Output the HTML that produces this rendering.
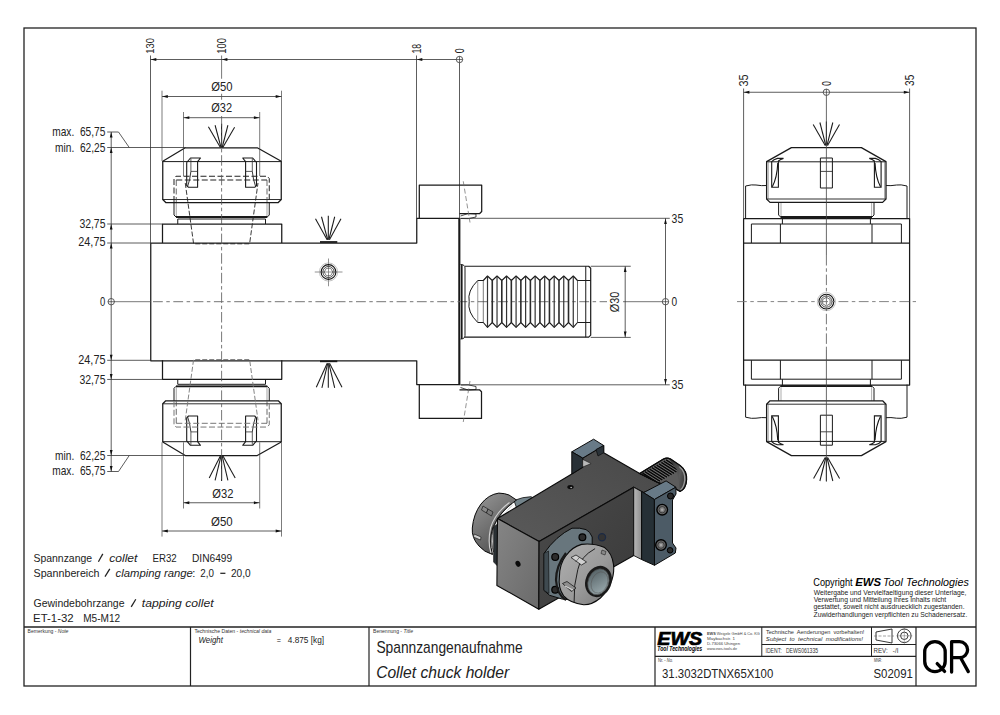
<!DOCTYPE html>
<html><head><meta charset="utf-8"><style>
html,body{margin:0;padding:0;background:#fff;width:1000px;height:715px;overflow:hidden}
svg{display:block}
</style></head><body>
<svg width="1000" height="715" viewBox="0 0 1000 715">
<defs>
<linearGradient id="gTop" x1="0" y1="1" x2="1" y2="0"><stop offset="0" stop-color="#5a5a5a"/><stop offset="1" stop-color="#484848"/></linearGradient>
<linearGradient id="gFront" x1="0" y1="0" x2="1" y2="1"><stop offset="0" stop-color="#858585"/><stop offset="1" stop-color="#6a6a6a"/></linearGradient>
<linearGradient id="gRight" x1="0" y1="0" x2="1" y2="1"><stop offset="0" stop-color="#4a4a4a"/><stop offset="1" stop-color="#3a3a3a"/></linearGradient>
<linearGradient id="gNut" x1="0" y1="0" x2="1" y2="1"><stop offset="0" stop-color="#b0b0b0"/><stop offset="0.55" stop-color="#9a9a9a"/><stop offset="1" stop-color="#777"/></linearGradient>
<linearGradient id="gNut2" x1="0" y1="0" x2="1" y2="1"><stop offset="0" stop-color="#9a9a9a"/><stop offset="1" stop-color="#5a5a5a"/></linearGradient>
<linearGradient id="gShank" x1="0" y1="0" x2="1" y2="1"><stop offset="0" stop-color="#555"/><stop offset="0.5" stop-color="#222"/><stop offset="1" stop-color="#444"/></linearGradient>
<linearGradient id="gBack" x1="0" y1="0" x2="0.6" y2="1"><stop offset="0" stop-color="#9a9a9a"/><stop offset="1" stop-color="#505050"/></linearGradient>
<linearGradient id="gStrip" x1="0" y1="0" x2="1" y2="0"><stop offset="0" stop-color="#b8b8b8"/><stop offset="1" stop-color="#8e8e8e"/></linearGradient>
<linearGradient id="gHole" x1="0" y1="0" x2="1" y2="1"><stop offset="0" stop-color="#4c585c"/><stop offset="1" stop-color="#a4b4b8"/></linearGradient>
<linearGradient id="gEnd" x1="0" y1="0" x2="1" y2="0.3"><stop offset="0" stop-color="#2a2a2a"/><stop offset="0.7" stop-color="#5a5a5a"/><stop offset="1" stop-color="#3a3a3a"/></linearGradient>
</defs>
<rect x="24" y="28" width="952" height="658" fill="none" stroke="#222" stroke-width="1.3"/>
<line x1="24" y1="627" x2="976" y2="627" stroke="#222" stroke-width="1.3" />
<line x1="190.5" y1="627" x2="190.5" y2="686" stroke="#222" stroke-width="1.2" />
<line x1="369" y1="627" x2="369" y2="686" stroke="#222" stroke-width="1.2" />
<line x1="655" y1="627" x2="655" y2="686" stroke="#222" stroke-width="1.2" />
<line x1="916" y1="627" x2="916" y2="686" stroke="#222" stroke-width="1.2" />
<line x1="761.8" y1="627" x2="761.8" y2="656.3" stroke="#222" stroke-width="1.0" />
<line x1="871.5" y1="627" x2="871.5" y2="656.3" stroke="#222" stroke-width="1.0" />
<line x1="655" y1="656.3" x2="916" y2="656.3" stroke="#222" stroke-width="1.2" />
<line x1="761.8" y1="644.5" x2="916" y2="644.5" stroke="#222" stroke-width="1.0" />
<polygon points="150.75,243 416.75,243 416.75,218.3 459.5,218.3 459.5,384.6 416.75,384.6 416.75,360.8 150.75,360.8" fill="none" stroke="#1a1a1a" stroke-width="1.25" stroke-linejoin="round" />
<line x1="459.3" y1="218.3" x2="459.3" y2="384.6" stroke="#1a1a1a" stroke-width="2.0" />
<polyline points="162.5,243 162.5,224 281.75,224 281.75,243" fill="none" stroke="#1a1a1a" stroke-width="1.25" stroke-linejoin="round" />
<polyline points="177.75,224 177.75,219 265.5,219 265.5,224" fill="none" stroke="#1a1a1a" stroke-width="1.0" stroke-linejoin="round" />
<polyline points="174,202.5 174,215 176,217 267.25,217 269.25,215 269.25,202.5" fill="none" stroke="#1a1a1a" stroke-width="1.0" stroke-linejoin="round" />
<line x1="176" y1="217" x2="267.25" y2="217" stroke="#1a1a1a" stroke-width="1.8" />
<line x1="176.25" y1="202.5" x2="176.25" y2="216" stroke="#666" stroke-width="0.6" />
<line x1="267" y1="202.5" x2="267" y2="216" stroke="#666" stroke-width="0.6" />
<polygon points="185.25,147.75 257.25,147.75 281.25,161.25 281.25,199.5 278.25,202.5 165.75,202.5 162.75,199.5 162.75,161.25" fill="none" stroke="#1a1a1a" stroke-width="1.25" stroke-linejoin="round" />
<line x1="162.75" y1="161.6" x2="281.25" y2="161.6" stroke="#1a1a1a" stroke-width="1.0" />
<line x1="162.75" y1="199.5" x2="281.25" y2="199.5" stroke="#1a1a1a" stroke-width="0.9" />
<polygon points="186.7,162.5 190.5,158 200.5,158 197.6,161.7 197.6,187.3 188.5,187.3 186.7,185.5" fill="none" stroke="#1a1a1a" stroke-width="1.1" stroke-linejoin="round" />
<line x1="190.9" y1="158.5" x2="190.9" y2="171.4" stroke="#333" stroke-width="0.8" />
<line x1="190.9" y1="171.4" x2="197.6" y2="171.4" stroke="#333" stroke-width="0.8" />
<path d="M190.9,171.4 Q190,180 187.6,186.5" fill="none" stroke="#222" stroke-width="0.9" />
<polygon points="256.5,162.5 252.7,158 242.7,158 245.6,161.7 245.6,187.3 254.7,187.3 256.5,185.5" fill="none" stroke="#1a1a1a" stroke-width="1.1" stroke-linejoin="round" />
<line x1="252.3" y1="158.5" x2="252.3" y2="171.4" stroke="#333" stroke-width="0.8" />
<line x1="252.3" y1="171.4" x2="245.6" y2="171.4" stroke="#333" stroke-width="0.8" />
<path d="M252.3,171.4 Q253.2,180 255.6,186.5" fill="none" stroke="#222" stroke-width="0.9" />
<polyline points="174,202 174,178.5 176,176.25 267.25,176.25 269.25,178.5 269.25,202" fill="none" stroke="#222" stroke-width="1.0" stroke-linejoin="round" stroke-dasharray="6,2.5"/>
<line x1="176.25" y1="180" x2="267" y2="180" stroke="#222" stroke-width="1.0" stroke-dasharray="6,2.5"/>
<line x1="176.25" y1="180" x2="176.25" y2="202" stroke="#444" stroke-width="0.8" stroke-dasharray="6,2.5"/>
<line x1="267" y1="180" x2="267" y2="202" stroke="#444" stroke-width="0.8" stroke-dasharray="6,2.5"/>
<polyline points="185.25,183 193.6,243.8 249.6,243.8 258.0,183" fill="none" stroke="#222" stroke-width="0.9" stroke-linejoin="round" stroke-dasharray="5,2"/>
<line x1="183.5" y1="112" x2="183.5" y2="176" stroke="#444" stroke-width="0.7" />
<line x1="259.7" y1="112" x2="259.7" y2="176" stroke="#444" stroke-width="0.7" />
<line x1="162" y1="90.7" x2="162" y2="161" stroke="#444" stroke-width="0.7" />
<line x1="281.5" y1="90.7" x2="281.5" y2="161" stroke="#444" stroke-width="0.7" />
<line x1="162" y1="96.5" x2="281.5" y2="96.5" stroke="#333" stroke-width="0.8" />
<line x1="183.5" y1="117.7" x2="259.7" y2="117.7" stroke="#333" stroke-width="0.8" />
<polyline points="162.5,360.3 162.5,379.3 281.75,379.3 281.75,360.3" fill="none" stroke="#1a1a1a" stroke-width="1.25" stroke-linejoin="round" />
<polyline points="177.75,379.3 177.75,384.3 265.5,384.3 265.5,379.3" fill="none" stroke="#1a1a1a" stroke-width="1.0" stroke-linejoin="round" />
<polyline points="174,400.8 174,388.3 176,386.3 267.25,386.3 269.25,388.3 269.25,400.8" fill="none" stroke="#1a1a1a" stroke-width="1.0" stroke-linejoin="round" />
<line x1="176" y1="386.3" x2="267.25" y2="386.3" stroke="#1a1a1a" stroke-width="1.8" />
<line x1="176.25" y1="400.8" x2="176.25" y2="387.3" stroke="#666" stroke-width="0.6" />
<line x1="267" y1="400.8" x2="267" y2="387.3" stroke="#666" stroke-width="0.6" />
<polygon points="185.25,455.55 257.25,455.55 281.25,442.05 281.25,403.8 278.25,400.8 165.75,400.8 162.75,403.8 162.75,442.05" fill="none" stroke="#1a1a1a" stroke-width="1.25" stroke-linejoin="round" />
<line x1="162.75" y1="441.7" x2="281.25" y2="441.7" stroke="#1a1a1a" stroke-width="1.0" />
<line x1="162.75" y1="403.8" x2="281.25" y2="403.8" stroke="#1a1a1a" stroke-width="0.9" />
<polygon points="186.7,440.8 190.5,445.3 200.5,445.3 197.6,441.6 197.6,416.0 188.5,416.0 186.7,417.8" fill="none" stroke="#1a1a1a" stroke-width="1.1" stroke-linejoin="round" />
<line x1="190.9" y1="444.8" x2="190.9" y2="431.9" stroke="#333" stroke-width="0.8" />
<line x1="190.9" y1="431.9" x2="197.6" y2="431.9" stroke="#333" stroke-width="0.8" />
<path d="M190.9,431.9 Q190,423.3 187.6,416.8" fill="none" stroke="#222" stroke-width="0.9" />
<polygon points="256.5,440.8 252.7,445.3 242.7,445.3 245.6,441.6 245.6,416.0 254.7,416.0 256.5,417.8" fill="none" stroke="#1a1a1a" stroke-width="1.1" stroke-linejoin="round" />
<line x1="252.3" y1="444.8" x2="252.3" y2="431.9" stroke="#333" stroke-width="0.8" />
<line x1="252.3" y1="431.9" x2="245.6" y2="431.9" stroke="#333" stroke-width="0.8" />
<path d="M252.3,431.9 Q253.2,423.3 255.6,416.8" fill="none" stroke="#222" stroke-width="0.9" />
<polyline points="174,401.3 174,424.8 176,427.05 267.25,427.05 269.25,424.8 269.25,401.3" fill="none" stroke="#777" stroke-width="1.0" stroke-linejoin="round" stroke-dasharray="6,2.5"/>
<line x1="176.25" y1="423.3" x2="267" y2="423.3" stroke="#777" stroke-width="1.0" stroke-dasharray="6,2.5"/>
<line x1="176.25" y1="423.3" x2="176.25" y2="401.3" stroke="#444" stroke-width="0.8" stroke-dasharray="6,2.5"/>
<line x1="267" y1="423.3" x2="267" y2="401.3" stroke="#444" stroke-width="0.8" stroke-dasharray="6,2.5"/>
<polyline points="185.25,420.3 193.6,359.5 249.6,359.5 258.0,420.3" fill="none" stroke="#777" stroke-width="0.9" stroke-linejoin="round" stroke-dasharray="5,2"/>
<line x1="183.5" y1="508.5" x2="183.5" y2="442.3" stroke="#444" stroke-width="0.7" />
<line x1="259.7" y1="508.5" x2="259.7" y2="442.3" stroke="#444" stroke-width="0.7" />
<line x1="162" y1="536.6" x2="162" y2="442.3" stroke="#444" stroke-width="0.7" />
<line x1="281.5" y1="536.6" x2="281.5" y2="442.3" stroke="#444" stroke-width="0.7" />
<line x1="162" y1="531" x2="281.5" y2="531" stroke="#333" stroke-width="0.8" />
<line x1="183.5" y1="502.75" x2="259.7" y2="502.75" stroke="#333" stroke-width="0.8" />
<polygon points="162.3,96.5 167.8,95.1 167.8,97.9" fill="#111" stroke="none"/>
<polygon points="281.2,96.5 275.7,95.1 275.7,97.9" fill="#111" stroke="none"/>
<polygon points="183.8,117.7 189.3,116.3 189.3,119.10000000000001" fill="#111" stroke="none"/>
<polygon points="259.4,117.7 253.89999999999998,116.3 253.89999999999998,119.10000000000001" fill="#111" stroke="none"/>
<polygon points="162.3,531 167.8,529.6 167.8,532.4" fill="#111" stroke="none"/>
<polygon points="281.2,531 275.7,529.6 275.7,532.4" fill="#111" stroke="none"/>
<polygon points="183.8,502.75 189.3,501.35 189.3,504.15" fill="#111" stroke="none"/>
<polygon points="259.4,502.75 253.89999999999998,501.35 253.89999999999998,504.15" fill="#111" stroke="none"/>
<line x1="220.41" y1="147.5" x2="208.4" y2="126.75" stroke="#1a1a1a" stroke-width="1.05" />
<line x1="221.01" y1="147.5" x2="215.1" y2="125.25" stroke="#1a1a1a" stroke-width="1.05" />
<line x1="221.6" y1="147.5" x2="221.6" y2="123.75" stroke="#1a1a1a" stroke-width="1.05" />
<line x1="222.17" y1="147.5" x2="227.9" y2="125.25" stroke="#1a1a1a" stroke-width="1.05" />
<line x1="222.77" y1="147.5" x2="234.6" y2="127.2" stroke="#1a1a1a" stroke-width="1.05" />
<line x1="220.48" y1="455.8" x2="209.2" y2="478.0" stroke="#1a1a1a" stroke-width="1.05" />
<line x1="221.01" y1="455.8" x2="215.1" y2="480.3" stroke="#1a1a1a" stroke-width="1.05" />
<line x1="221.6" y1="455.8" x2="221.6" y2="481.0" stroke="#1a1a1a" stroke-width="1.05" />
<line x1="222.17" y1="455.8" x2="227.9" y2="480.3" stroke="#1a1a1a" stroke-width="1.05" />
<line x1="222.82" y1="455.8" x2="235.2" y2="478.0" stroke="#1a1a1a" stroke-width="1.05" />
<line x1="327.15" y1="239.75" x2="315.5" y2="218.75" stroke="#1a1a1a" stroke-width="1.05" />
<line x1="327.69" y1="239.75" x2="321.5" y2="216.75" stroke="#1a1a1a" stroke-width="1.05" />
<line x1="328.3" y1="239.75" x2="328.3" y2="215.75" stroke="#1a1a1a" stroke-width="1.05" />
<line x1="328.88" y1="239.75" x2="334.7" y2="216.75" stroke="#1a1a1a" stroke-width="1.05" />
<line x1="329.44" y1="239.75" x2="341.0" y2="218.75" stroke="#1a1a1a" stroke-width="1.05" />
<line x1="327.22" y1="363.3" x2="316.3" y2="387.2" stroke="#1a1a1a" stroke-width="1.05" />
<line x1="327.72" y1="363.3" x2="321.90000000000003" y2="387.8" stroke="#1a1a1a" stroke-width="1.05" />
<line x1="328.3" y1="363.3" x2="328.3" y2="387.8" stroke="#1a1a1a" stroke-width="1.05" />
<line x1="328.88" y1="363.3" x2="334.7" y2="387.8" stroke="#1a1a1a" stroke-width="1.05" />
<line x1="329.53" y1="363.3" x2="342.0" y2="387.2" stroke="#1a1a1a" stroke-width="1.05" />
<line x1="320" y1="242" x2="337.3" y2="242" stroke="#1a1a1a" stroke-width="1.8" />
<line x1="320" y1="361.3" x2="337.3" y2="361.3" stroke="#1a1a1a" stroke-width="1.8" />
<line x1="314.75" y1="272" x2="342.5" y2="272" stroke="#777" stroke-width="0.8" />
<line x1="328.5" y1="258.5" x2="328.5" y2="286.25" stroke="#777" stroke-width="0.8" />
<circle cx="328.5" cy="272" r="9.1" fill="none" stroke="#999" stroke-width="0.6"/>
<circle cx="328.5" cy="272" r="7.4" fill="none" stroke="#111" stroke-width="1.1"/>
<circle cx="328.5" cy="272" r="5.6" fill="none" stroke="#222" stroke-width="0.8"/>
<polygon points="332.80,272.00 330.65,275.72 326.35,275.72 324.20,272.00 326.35,268.28 330.65,268.28" fill="none" stroke="#444" stroke-width="0.7"/>
<line x1="221.6" y1="55.5" x2="221.6" y2="78.75" stroke="#555" stroke-width="0.8" />
<line x1="221.6" y1="93.75" x2="221.6" y2="99.75" stroke="#555" stroke-width="0.8" />
<line x1="221.6" y1="116" x2="221.6" y2="481" stroke="#555" stroke-width="0.8" stroke-dasharray="10.5,2.8,3.5,2.8"/>
<line x1="114.2" y1="301.7" x2="150.75" y2="301.7" stroke="#555" stroke-width="0.8" />
<line x1="153" y1="301.7" x2="607" y2="301.7" stroke="#666" stroke-width="0.9" stroke-dasharray="9.8,3.5,3.5,3.5"/>
<line x1="623" y1="301.7" x2="662.3" y2="301.7" stroke="#666" stroke-width="0.9" />
<line x1="150.5" y1="55.5" x2="150.5" y2="243" stroke="#333" stroke-width="0.8" />
<line x1="416.5" y1="55.5" x2="416.5" y2="218.3" stroke="#333" stroke-width="0.8" />
<line x1="459.5" y1="62.8" x2="459.5" y2="218.3" stroke="#333" stroke-width="0.8" />
<line x1="150.5" y1="59.5" x2="456.3" y2="59.5" stroke="#333" stroke-width="0.8" />
<polygon points="150.8,59.5 156.3,58.1 156.3,60.9" fill="#111" stroke="none"/>
<polygon points="221.9,59.5 227.4,58.1 227.4,60.9" fill="#111" stroke="none"/>
<polygon points="416.8,59.5 422.3,58.1 422.3,60.9" fill="#111" stroke="none"/>
<circle cx="459.5" cy="59.5" r="3.2" fill="none" stroke="#333" stroke-width="0.8"/>
<line x1="456.3" y1="59.5" x2="462.7" y2="59.5" stroke="#333" stroke-width="0.7" />
<line x1="459.5" y1="56.3" x2="459.5" y2="62.7" stroke="#333" stroke-width="0.7" />
<line x1="111.2" y1="132" x2="111.2" y2="298.5" stroke="#333" stroke-width="0.8" />
<line x1="111.2" y1="304.9" x2="111.2" y2="471.5" stroke="#333" stroke-width="0.8" />
<circle cx="111.2" cy="301.7" r="3.2" fill="none" stroke="#333" stroke-width="0.8"/>
<line x1="108.0" y1="301.7" x2="114.4" y2="301.7" stroke="#333" stroke-width="0.7" />
<line x1="111.2" y1="298.5" x2="111.2" y2="304.9" stroke="#333" stroke-width="0.7" />
<line x1="107.2" y1="147.5" x2="186" y2="147.5" stroke="#333" stroke-width="0.8" />
<line x1="107.2" y1="224" x2="162.5" y2="224" stroke="#333" stroke-width="0.8" />
<line x1="107.2" y1="243" x2="150.75" y2="243" stroke="#333" stroke-width="0.8" />
<line x1="107.2" y1="360.3" x2="150.75" y2="360.3" stroke="#333" stroke-width="0.8" />
<line x1="107.2" y1="379.45" x2="162.3" y2="379.45" stroke="#333" stroke-width="0.8" />
<line x1="107.2" y1="455.5" x2="185" y2="455.5" stroke="#333" stroke-width="0.8" />
<polyline points="107.2,132 118.5,132 129.25,147.5" fill="none" stroke="#333" stroke-width="0.8" stroke-linejoin="round" />
<polyline points="107.2,471.5 118.5,471.5 129.25,455.5" fill="none" stroke="#333" stroke-width="0.8" stroke-linejoin="round" />
<polygon points="111.2,132 109.8,137.5 112.60000000000001,137.5" fill="#111" stroke="none"/>
<polygon points="111.2,147.5 109.8,153.0 112.60000000000001,153.0" fill="#111" stroke="none"/>
<polygon points="111.2,224 109.8,229.5 112.60000000000001,229.5" fill="#111" stroke="none"/>
<polygon points="111.2,243 109.8,248.5 112.60000000000001,248.5" fill="#111" stroke="none"/>
<polygon points="111.2,360.3 109.8,354.8 112.60000000000001,354.8" fill="#111" stroke="none"/>
<polygon points="111.2,379.45 109.8,373.95 112.60000000000001,373.95" fill="#111" stroke="none"/>
<polygon points="111.2,455.5 109.8,450.0 112.60000000000001,450.0" fill="#111" stroke="none"/>
<polygon points="111.2,471.5 109.8,466.0 112.60000000000001,466.0" fill="#111" stroke="none"/>
<line x1="459.5" y1="218.3" x2="669.75" y2="218.3" stroke="#333" stroke-width="0.8" />
<line x1="459.5" y1="384.8" x2="669.75" y2="384.8" stroke="#333" stroke-width="0.8" />
<line x1="665.5" y1="218.3" x2="665.5" y2="298.5" stroke="#333" stroke-width="0.8" />
<line x1="665.5" y1="304.9" x2="665.5" y2="384.8" stroke="#333" stroke-width="0.8" />
<circle cx="665.5" cy="301.7" r="3.2" fill="none" stroke="#333" stroke-width="0.8"/>
<line x1="662.3" y1="301.7" x2="668.7" y2="301.7" stroke="#333" stroke-width="0.7" />
<line x1="665.5" y1="298.5" x2="665.5" y2="304.9" stroke="#333" stroke-width="0.7" />
<polygon points="665.5,218.6 664.1,224.1 666.9,224.1" fill="#111" stroke="none"/>
<polygon points="665.5,384.5 664.1,379.0 666.9,379.0" fill="#111" stroke="none"/>
<line x1="590.7" y1="266.25" x2="630.75" y2="266.25" stroke="#333" stroke-width="0.8" />
<line x1="590.7" y1="337.4" x2="630.75" y2="337.4" stroke="#333" stroke-width="0.8" />
<line x1="625.2" y1="266.25" x2="625.2" y2="337.4" stroke="#333" stroke-width="0.8" />
<polygon points="625.2,266.5 623.8000000000001,272.0 626.6,272.0" fill="#111" stroke="none"/>
<polygon points="625.2,337.1 623.8000000000001,331.6 626.6,331.6" fill="#111" stroke="none"/>
<polyline points="419.3,218.3 419.3,185 481.7,185 481.7,211.5 479.7,213.5 459.5,213.5" fill="none" stroke="#1a1a1a" stroke-width="1.25" stroke-linejoin="round" />
<polyline points="419.3,384.6 419.3,418.4 481.5,418.4 481.5,391.8 479.5,389.8 459.5,389.8" fill="none" stroke="#1a1a1a" stroke-width="1.25" stroke-linejoin="round" />
<path d="M460.5,216 Q468,212 476,214 L476,217 Q468,219.5 461,218.5" fill="none" stroke="#1a1a1a" stroke-width="0.8" />
<path d="M460.5,387.5 Q468,391.5 476,389.5 L476,386.5 Q468,384 461,385" fill="none" stroke="#1a1a1a" stroke-width="0.8" />
<line x1="463.25" y1="181.25" x2="470" y2="222.5" stroke="#666" stroke-width="0.7" stroke-dasharray="5,2.5"/>
<line x1="470" y1="381" x2="463.25" y2="422" stroke="#666" stroke-width="0.7" stroke-dasharray="5,2.5"/>
<path d="M460.5,264.5 Q465,264.5 465,268 L465,335.5 Q465,339 460.5,339" fill="none" stroke="#1a1a1a" stroke-width="1.0" />
<line x1="461.8" y1="264.5" x2="461.8" y2="339" stroke="#1a1a1a" stroke-width="1.6" />
<polyline points="465,266.25 588.7,266.25 590.7,268.25 590.7,335.2 588.7,337.2 465,337.2" fill="none" stroke="#1a1a1a" stroke-width="1.2" stroke-linejoin="round" />
<line x1="585.75" y1="266.25" x2="585.75" y2="337.2" stroke="#1a1a1a" stroke-width="1.0" />
<polyline points="477.75,280.5 483.3,280.5 487.5,276 492.27,280.5 497.03,276 501.79999999999995,280.5 506.56,276 511.33,280.5 516.09,276 520.86,280.5 525.62,276 530.39,280.5 535.15,276 539.92,280.5 544.68,276 549.4499999999999,280.5 554.21,276 558.98,280.5 563.74,276 568.51,280.5 573.27,276 577.5,280.5 590.7,280.5" fill="none" stroke="#1a1a1a" stroke-width="1.1" stroke-linejoin="round" />
<polyline points="477.75,322.5 483.3,322.5 487.5,327.3 492.27,322.5 497.03,327.3 501.79999999999995,322.5 506.56,327.3 511.33,322.5 516.09,327.3 520.86,322.5 525.62,327.3 530.39,322.5 535.15,327.3 539.92,322.5 544.68,327.3 549.4499999999999,322.5 554.21,327.3 558.98,322.5 563.74,327.3 568.51,322.5 573.27,327.3 577.5,322.5 590.7,322.5" fill="none" stroke="#1a1a1a" stroke-width="1.1" stroke-linejoin="round" />
<line x1="487.5" y1="276.5" x2="487.5" y2="327" stroke="#333" stroke-width="1.2" />
<line x1="497.03" y1="276.5" x2="497.03" y2="327" stroke="#333" stroke-width="1.2" />
<line x1="506.56" y1="276.5" x2="506.56" y2="327" stroke="#333" stroke-width="1.2" />
<line x1="516.09" y1="276.5" x2="516.09" y2="327" stroke="#333" stroke-width="1.2" />
<line x1="525.62" y1="276.5" x2="525.62" y2="327" stroke="#333" stroke-width="1.2" />
<line x1="535.15" y1="276.5" x2="535.15" y2="327" stroke="#333" stroke-width="1.2" />
<line x1="544.68" y1="276.5" x2="544.68" y2="327" stroke="#333" stroke-width="1.2" />
<line x1="554.21" y1="276.5" x2="554.21" y2="327" stroke="#333" stroke-width="1.2" />
<line x1="563.74" y1="276.5" x2="563.74" y2="327" stroke="#333" stroke-width="1.2" />
<line x1="573.27" y1="276.5" x2="573.27" y2="327" stroke="#333" stroke-width="1.2" />
<line x1="492.27" y1="280.5" x2="492.27" y2="322.5" stroke="#2a2a2a" stroke-width="1.6" />
<line x1="501.8" y1="280.5" x2="501.8" y2="322.5" stroke="#2a2a2a" stroke-width="1.6" />
<line x1="511.33" y1="280.5" x2="511.33" y2="322.5" stroke="#2a2a2a" stroke-width="1.6" />
<line x1="520.86" y1="280.5" x2="520.86" y2="322.5" stroke="#2a2a2a" stroke-width="1.6" />
<line x1="530.39" y1="280.5" x2="530.39" y2="322.5" stroke="#2a2a2a" stroke-width="1.6" />
<line x1="539.92" y1="280.5" x2="539.92" y2="322.5" stroke="#2a2a2a" stroke-width="1.6" />
<line x1="549.45" y1="280.5" x2="549.45" y2="322.5" stroke="#2a2a2a" stroke-width="1.6" />
<line x1="558.98" y1="280.5" x2="558.98" y2="322.5" stroke="#2a2a2a" stroke-width="1.6" />
<line x1="568.51" y1="280.5" x2="568.51" y2="322.5" stroke="#2a2a2a" stroke-width="1.6" />
<line x1="483.3" y1="280.5" x2="483.3" y2="322.5" stroke="#444" stroke-width="0.7" />
<line x1="577.5" y1="280.5" x2="577.5" y2="322.5" stroke="#444" stroke-width="0.8" />
<path d="M477.75,280.5 Q467,291 469.2,301.5 Q467,312 477.75,322.5" fill="none" stroke="#1a1a1a" stroke-width="1.0" />
<line x1="477.75" y1="280.5" x2="477.75" y2="322.5" stroke="#555" stroke-width="0.6" />
<polygon points="743.6,218.6 909.6,218.6 909.6,385 743.6,385" fill="none" stroke="#1a1a1a" stroke-width="1.25" stroke-linejoin="round" />
<line x1="743.6" y1="88.5" x2="743.6" y2="218.6" stroke="#333" stroke-width="0.8" />
<line x1="909.6" y1="88.5" x2="909.6" y2="218.6" stroke="#333" stroke-width="0.8" />
<line x1="743.6" y1="92.25" x2="823.2" y2="92.25" stroke="#333" stroke-width="0.8" />
<line x1="829.6" y1="92.25" x2="909.6" y2="92.25" stroke="#333" stroke-width="0.8" />
<polygon points="743.9,92.25 749.4,90.85 749.4,93.65" fill="#111" stroke="none"/>
<polygon points="909.3,92.25 903.8,90.85 903.8,93.65" fill="#111" stroke="none"/>
<circle cx="826.4" cy="92.25" r="3.2" fill="none" stroke="#333" stroke-width="0.8"/>
<line x1="823.1999999999999" y1="92.25" x2="829.6" y2="92.25" stroke="#333" stroke-width="0.7" />
<line x1="826.4" y1="89.05" x2="826.4" y2="95.45" stroke="#333" stroke-width="0.7" />
<line x1="743.6" y1="243" x2="909.6" y2="243" stroke="#1a1a1a" stroke-width="1.25" />
<line x1="751.4" y1="224" x2="901.4" y2="224" stroke="#1a1a1a" stroke-width="1.0" />
<line x1="751.4" y1="224" x2="751.4" y2="243" stroke="#1a1a1a" stroke-width="1.0" />
<line x1="780.4" y1="224" x2="780.4" y2="243" stroke="#1a1a1a" stroke-width="1.0" />
<line x1="872" y1="224" x2="872" y2="243" stroke="#1a1a1a" stroke-width="1.0" />
<line x1="901.4" y1="224" x2="901.4" y2="243" stroke="#1a1a1a" stroke-width="1.0" />
<path d="M745.6,218.6 L745.6,186 Q752,184.3 756,185 Q762,186 766.6,185.5" fill="none" stroke="#1a1a1a" stroke-width="1.0" />
<path d="M907,218.6 L907,186 Q900.6,184.3 896.6,185 Q890.6,186 886,185.5" fill="none" stroke="#1a1a1a" stroke-width="1.0" />
<polyline points="782.4,224 782.4,217 870.4,217 870.4,224" fill="none" stroke="#1a1a1a" stroke-width="1.0" stroke-linejoin="round" />
<polyline points="778.6,202.4 778.6,215 780.6,217 872,217 874,215 874,202.4" fill="none" stroke="#1a1a1a" stroke-width="1.0" stroke-linejoin="round" />
<line x1="780.6" y1="217" x2="872" y2="217" stroke="#1a1a1a" stroke-width="1.8" />
<line x1="781" y1="202.4" x2="781" y2="216" stroke="#777" stroke-width="0.6" />
<line x1="871.6" y1="202.4" x2="871.6" y2="216" stroke="#777" stroke-width="0.6" />
<polygon points="791.4,147.6 861.4,147.6 886,161.6 886,199 882.6,202.4 770,202.4 766.6,199 766.6,161.6" fill="none" stroke="#1a1a1a" stroke-width="1.25" stroke-linejoin="round" />
<line x1="766.6" y1="161.8" x2="886" y2="161.8" stroke="#1a1a1a" stroke-width="1.0" />
<line x1="766.6" y1="199" x2="886" y2="199" stroke="#1a1a1a" stroke-width="0.9" />
<path d="M771.7,161.6 L771.7,187.3 L778.4,187.3 L778.4,161 Q780.5,159.3 783.5,158.4 L777.5,158.4 Q773.5,159.5 771.7,161.6 Z" fill="none" stroke="#1a1a1a" stroke-width="1.1" />
<path d="M777.8,163 Q777,178 772.3,186.8" fill="none" stroke="#111" stroke-width="1.1" />
<line x1="768.2" y1="161.8" x2="768.2" y2="199" stroke="#666" stroke-width="0.6" />
<path d="M881.1,161.6 L881.1,187.3 L874.4,187.3 L874.4,161 Q872.3,159.3 869.3,158.4 L875.3,158.4 Q879.3,159.5 881.1,161.6 Z" fill="none" stroke="#1a1a1a" stroke-width="1.1" />
<path d="M875.0,163 Q875.8,178 880.5,186.8" fill="none" stroke="#111" stroke-width="1.1" />
<line x1="884.6" y1="161.8" x2="884.6" y2="199" stroke="#666" stroke-width="0.6" />
<polygon points="820.4,158 832.4,158 832.4,188 820.4,188" fill="none" stroke="#1a1a1a" stroke-width="1.0" stroke-linejoin="round" />
<line x1="820.4" y1="171.4" x2="832.4" y2="171.4" stroke="#1a1a1a" stroke-width="0.8" />
<line x1="743.6" y1="360.2" x2="909.6" y2="360.2" stroke="#1a1a1a" stroke-width="1.25" />
<line x1="751.4" y1="379.2" x2="901.4" y2="379.2" stroke="#1a1a1a" stroke-width="1.0" />
<line x1="751.4" y1="379.2" x2="751.4" y2="360.2" stroke="#1a1a1a" stroke-width="1.0" />
<line x1="780.4" y1="379.2" x2="780.4" y2="360.2" stroke="#1a1a1a" stroke-width="1.0" />
<line x1="872" y1="379.2" x2="872" y2="360.2" stroke="#1a1a1a" stroke-width="1.0" />
<line x1="901.4" y1="379.2" x2="901.4" y2="360.2" stroke="#1a1a1a" stroke-width="1.0" />
<path d="M745.6,384.6 L745.6,417.2 Q752,418.9 756,418.2 Q762,417.2 766.6,417.7" fill="none" stroke="#1a1a1a" stroke-width="1.0" />
<path d="M907,384.6 L907,417.2 Q900.6,418.9 896.6,418.2 Q890.6,417.2 886,417.7" fill="none" stroke="#1a1a1a" stroke-width="1.0" />
<polyline points="782.4,379.2 782.4,386.2 870.4,386.2 870.4,379.2" fill="none" stroke="#1a1a1a" stroke-width="1.0" stroke-linejoin="round" />
<polyline points="778.6,400.8 778.6,388.2 780.6,386.2 872,386.2 874,388.2 874,400.8" fill="none" stroke="#1a1a1a" stroke-width="1.0" stroke-linejoin="round" />
<line x1="780.6" y1="386.2" x2="872" y2="386.2" stroke="#1a1a1a" stroke-width="1.8" />
<line x1="781" y1="400.8" x2="781" y2="387.2" stroke="#777" stroke-width="0.6" />
<line x1="871.6" y1="400.8" x2="871.6" y2="387.2" stroke="#777" stroke-width="0.6" />
<polygon points="791.4,455.6 861.4,455.6 886,441.6 886,404.2 882.6,400.8 770,400.8 766.6,404.2 766.6,441.6" fill="none" stroke="#1a1a1a" stroke-width="1.25" stroke-linejoin="round" />
<line x1="766.6" y1="441.4" x2="886" y2="441.4" stroke="#1a1a1a" stroke-width="1.0" />
<line x1="766.6" y1="404.2" x2="886" y2="404.2" stroke="#1a1a1a" stroke-width="0.9" />
<path d="M771.7,441.6 L771.7,415.9 L778.4,415.9 L778.4,442.2 Q780.5,443.9 783.5,444.8 L777.5,444.8 Q773.5,443.7 771.7,441.6 Z" fill="none" stroke="#1a1a1a" stroke-width="1.1" />
<path d="M777.8,440.2 Q777,425.2 772.3,416.4" fill="none" stroke="#111" stroke-width="1.1" />
<line x1="768.2" y1="441.4" x2="768.2" y2="404.2" stroke="#666" stroke-width="0.6" />
<path d="M881.1,441.6 L881.1,415.9 L874.4,415.9 L874.4,442.2 Q872.3,443.9 869.3,444.8 L875.3,444.8 Q879.3,443.7 881.1,441.6 Z" fill="none" stroke="#1a1a1a" stroke-width="1.1" />
<path d="M875.0,440.2 Q875.8,425.2 880.5,416.4" fill="none" stroke="#111" stroke-width="1.1" />
<line x1="884.6" y1="441.4" x2="884.6" y2="404.2" stroke="#666" stroke-width="0.6" />
<polygon points="820.4,445.2 832.4,445.2 832.4,415.2 820.4,415.2" fill="none" stroke="#1a1a1a" stroke-width="1.0" stroke-linejoin="round" />
<line x1="820.4" y1="431.8" x2="832.4" y2="431.8" stroke="#1a1a1a" stroke-width="0.8" />
<line x1="825.21" y1="145.5" x2="813.1999999999999" y2="124.5" stroke="#1a1a1a" stroke-width="1.05" />
<line x1="825.81" y1="145.5" x2="819.9" y2="122.5" stroke="#1a1a1a" stroke-width="1.05" />
<line x1="826.4" y1="145.5" x2="826.4" y2="121.5" stroke="#1a1a1a" stroke-width="1.05" />
<line x1="826.98" y1="145.5" x2="832.8" y2="122.5" stroke="#1a1a1a" stroke-width="1.05" />
<line x1="827.58" y1="145.5" x2="839.5" y2="124.5" stroke="#1a1a1a" stroke-width="1.05" />
<line x1="825.25" y1="457.5" x2="813.6" y2="478.5" stroke="#1a1a1a" stroke-width="1.05" />
<line x1="825.81" y1="457.5" x2="819.9" y2="481.0" stroke="#1a1a1a" stroke-width="1.05" />
<line x1="826.4" y1="457.5" x2="826.4" y2="481.5" stroke="#1a1a1a" stroke-width="1.05" />
<line x1="826.98" y1="457.5" x2="832.8" y2="481.0" stroke="#1a1a1a" stroke-width="1.05" />
<line x1="827.59" y1="457.5" x2="839.6" y2="478.5" stroke="#1a1a1a" stroke-width="1.05" />
<circle cx="826.4" cy="301.6" r="9.1" fill="none" stroke="#999" stroke-width="0.6"/>
<circle cx="826.4" cy="301.6" r="7.4" fill="none" stroke="#111" stroke-width="1.1"/>
<circle cx="826.4" cy="301.6" r="5.6" fill="none" stroke="#222" stroke-width="0.8"/>
<polygon points="830.12,303.75 826.40,305.90 822.68,303.75 822.68,299.45 826.40,297.30 830.12,299.45" fill="none" stroke="#333" stroke-width="0.7"/>
<line x1="826.4" y1="95.5" x2="826.4" y2="255" stroke="#444" stroke-width="0.8" />
<line x1="826.4" y1="255" x2="826.4" y2="350" stroke="#555" stroke-width="0.8" stroke-dasharray="10.5,2.8,3.5,2.8"/>
<line x1="826.4" y1="350" x2="826.4" y2="481" stroke="#444" stroke-width="0.8" />
<line x1="737" y1="301.6" x2="916" y2="301.6" stroke="#777" stroke-width="0.9" stroke-dasharray="9.8,3.5,3.5,3.5"/>
<path d="M514,500.5 Q523,496.8 531,496.7 L534,498.5 L518,512 Z" fill="#74848b" stroke="#0a0a0a" stroke-width="0.8" />
<path d="M498.8,493.1 Q505,493.3 509,495 L516.5,500 Q500,511 493,527 Q488.5,541 492.5,554.5 Q484,552 479,546 Q471.5,538 472.3,528 Q473.5,514 481,504 Q488.5,494.5 498.8,493.1 Z" fill="url(#gBack)" stroke="#0a0a0a" stroke-width="1.0" />
<path d="M509.5,502.5 Q495,513 490.5,528 Q487.5,543 491,553" fill="none" stroke="#d0d0d0" stroke-width="1.1" />
<path d="M512,503.5 Q498,514 493,529 Q490.5,543 493.5,552" fill="none" stroke="#1a1a1a" stroke-width="0.8" />
<path d="M514,504 Q500,515 495.5,530 Q493,543 495.5,552 L497.5,552 L497.5,520 Z" fill="#5d6b70" stroke="none" stroke-width="0" />
<polygon points="483,506 488,509 486.5,513 481.5,510" fill="#8a8a8a" stroke="#0a0a0a" stroke-width="0.6" stroke-linejoin="round" />
<polygon points="488,509 493,512 491.5,516 486.5,513" fill="#7a7a7a" stroke="#0a0a0a" stroke-width="0.6" stroke-linejoin="round" />
<polygon points="474,534 481,537 480.5,540 473.5,537" fill="#d0d0d0" stroke="#0a0a0a" stroke-width="0.6" stroke-linejoin="round" />
<polygon points="493.6,527 497.5,524 497.5,566 493.6,562" fill="#2b3135" stroke="#0a0a0a" stroke-width="0.6" stroke-linejoin="round" />
<polygon points="497.5,518.5 571.8,474 582.7,467.2 582.7,458.1 603.7,445.5 603.7,452.7 639.7,473.5 663,485 643.6,492.6 641.6,491.5 633.7,487.2 539.1,541.5" fill="url(#gTop)" stroke="#0a0a0a" stroke-width="1.1" stroke-linejoin="round" />
<polygon points="497.5,518.5 539.1,541.5 538.8,609.2 496.9,585.4" fill="url(#gFront)" stroke="#0a0a0a" stroke-width="1.1" stroke-linejoin="round" />
<polygon points="539.1,541.5 633.7,487.2 633.7,555.5 538.8,609.2" fill="url(#gRight)" stroke="#0a0a0a" stroke-width="1.1" stroke-linejoin="round" />
<polygon points="633.7,487.2 641.6,491.5 641.6,559.5 633.7,555.5" fill="url(#gStrip)" stroke="#0a0a0a" stroke-width="0.9" stroke-linejoin="round" />
<polygon points="571.8,451.8 593.6,439.2 603.7,445.5 582.7,458.1" fill="#687a87" stroke="#0a0a0a" stroke-width="1.0" stroke-linejoin="round" />
<polygon points="571.8,451.8 582.7,458.1 582.7,467.2 571.8,474" fill="#283036" stroke="#0a0a0a" stroke-width="1.0" stroke-linejoin="round" />
<polygon points="582.7,459.4 591.1,463.6 582.7,467" fill="#b9b9b9" stroke="#0a0a0a" stroke-width="0.5" stroke-linejoin="round" />
<polygon points="603.7,445.5 603.7,452.7 598,456 596,449.5" fill="#2a3238" stroke="#0a0a0a" stroke-width="0.7" stroke-linejoin="round" />
<clipPath id="cSh"><path d="M639.7,473.5 L663.5,459 Q667,457.3 670.5,459 L680,465.5 Q687.2,471 686.6,480 Q686,489 680,491.5 L676,489 L657.3,482.3 Z"/></clipPath>
<path d="M639.7,473.5 L663.5,459 Q667,457.3 670.5,459 L680,465.5 Q687.2,471 686.6,480 Q686,489 680,491.5 L676,489 L657.3,482.3 Z" fill="#5c5c5c" stroke="#0a0a0a" stroke-width="1.1" />
<g clip-path="url(#cSh)">
<line x1="642.6" y1="473.0" x2="657.6" y2="482.5" stroke="#080808" stroke-width="1.5" />
<line x1="643.8" y1="472.4" x2="658.8" y2="481.9" stroke="#7a7a7a" stroke-width="0.7" />
<line x1="644.95" y1="471.68" x2="659.95" y2="481.18" stroke="#080808" stroke-width="1.5" />
<line x1="646.15" y1="471.08" x2="661.15" y2="480.58" stroke="#7a7a7a" stroke-width="0.7" />
<line x1="647.3" y1="470.36" x2="662.3" y2="479.86" stroke="#080808" stroke-width="1.5" />
<line x1="648.5" y1="469.76" x2="663.5" y2="479.26" stroke="#7a7a7a" stroke-width="0.7" />
<line x1="649.65" y1="469.04" x2="664.65" y2="478.54" stroke="#080808" stroke-width="1.5" />
<line x1="650.85" y1="468.44" x2="665.85" y2="477.94" stroke="#7a7a7a" stroke-width="0.7" />
<line x1="652.0" y1="467.72" x2="667.0" y2="477.22" stroke="#080808" stroke-width="1.5" />
<line x1="653.2" y1="467.12" x2="668.2" y2="476.62" stroke="#7a7a7a" stroke-width="0.7" />
<line x1="654.35" y1="466.4" x2="669.35" y2="475.9" stroke="#080808" stroke-width="1.5" />
<line x1="655.55" y1="465.8" x2="670.55" y2="475.3" stroke="#7a7a7a" stroke-width="0.7" />
<line x1="656.7" y1="465.08" x2="671.7" y2="474.58" stroke="#080808" stroke-width="1.5" />
<line x1="657.9" y1="464.48" x2="672.9" y2="473.98" stroke="#7a7a7a" stroke-width="0.7" />
<line x1="659.05" y1="463.76" x2="674.05" y2="473.26" stroke="#080808" stroke-width="1.5" />
<line x1="660.25" y1="463.16" x2="675.25" y2="472.66" stroke="#7a7a7a" stroke-width="0.7" />
<line x1="661.4" y1="462.44" x2="676.4" y2="471.94" stroke="#080808" stroke-width="1.5" />
<line x1="662.6" y1="461.84" x2="677.6" y2="471.34" stroke="#7a7a7a" stroke-width="0.7" />
<line x1="663.75" y1="461.12" x2="678.75" y2="470.62" stroke="#080808" stroke-width="1.5" />
<line x1="664.95" y1="460.52" x2="679.95" y2="470.02" stroke="#7a7a7a" stroke-width="0.7" />
<line x1="666.1" y1="459.8" x2="681.1" y2="469.3" stroke="#080808" stroke-width="1.5" />
<line x1="667.3" y1="459.2" x2="682.3" y2="468.7" stroke="#7a7a7a" stroke-width="0.7" />
<path d="M668,457.5 L681,465 Q688,471 687,480 Q686,490 680,492 L677,470 Z" fill="url(#gEnd)"/>
</g>
<path d="M679.5,466.5 Q685.5,472 684.8,480 Q684,487 680.5,490" fill="none" stroke="#9a9a9a" stroke-width="1.4" />
<path d="M639.7,473.5 L663.5,459 Q667,457.3 670.5,459 L680,465.5 Q687.2,471 686.6,480 Q686,489 680,491.5 L676,489 L657.3,482.3 Z" fill="none" stroke="#0a0a0a" stroke-width="1.1" />
<polygon points="643.6,492.6 666.1,480.9 675.9,487.2 654.4,499.5" fill="#687a87" stroke="#0a0a0a" stroke-width="1.0" stroke-linejoin="round" />
<polygon points="641.6,491.5 654.4,499.5 654.5,565.3 641.6,559.5" fill="#263036" stroke="#0a0a0a" stroke-width="1.0" stroke-linejoin="round" />
<polygon points="654.4,499.5 675.9,487.2 676,494 672.5,500 672.5,543 676,548 675.3,553 654.5,565.3" fill="#4c5b66" stroke="#0a0a0a" stroke-width="1.0" stroke-linejoin="round" />
<circle cx="662.2" cy="509.7" r="5.3" fill="#6a6a6a" stroke="#000" stroke-width="1.4"/>
<circle cx="662.2" cy="509.7" r="3.2" fill="#7d7d7d" stroke="#222" stroke-width="0.7"/>
<circle cx="662.2" cy="509.7" r="1.3" fill="#a5a5a5" stroke="none" stroke-width="0"/>
<circle cx="661" cy="545.1" r="5.3" fill="#6a6a6a" stroke="#000" stroke-width="1.4"/>
<circle cx="661" cy="545.1" r="3.2" fill="#7d7d7d" stroke="#222" stroke-width="0.7"/>
<circle cx="661" cy="545.1" r="1.3" fill="#a5a5a5" stroke="none" stroke-width="0"/>
<circle cx="670.5" cy="496" r="3.0" fill="#2a2a2a" stroke="#000" stroke-width="1.0"/>
<circle cx="670.1" cy="550.3" r="2.8" fill="#2a2a2a" stroke="#000" stroke-width="1.0"/>
<ellipse cx="570.5" cy="487.1" rx="3.2" ry="2.1" fill="#0a0a0a"/><ellipse cx="571.2" cy="487.5" rx="1" ry="0.7" fill="#aaa"/>
<ellipse cx="518" cy="563.8" rx="2.4" ry="3.1" transform="rotate(-25 518 563.8)" fill="#0a0a0a"/>
<path d="M544,553.4 Q556,536 572,528.2 Q580,527.5 586,529.6 Q590,531.5 592.2,537 L592.2,545 L575,600 Q562,600.5 549.6,595.3 L544,590.4 Z" fill="#68767d" stroke="#0a0a0a" stroke-width="1.0" />
<path d="M544,553.4 L548.5,551 L549,593.5 L544,590.4 Z" fill="#3f4a50" stroke="#0a0a0a" stroke-width="0.6" />
<circle cx="582.4" cy="537.3" r="3.4" fill="#2c2c2c" stroke="#000" stroke-width="1.2"/>
<circle cx="555.2" cy="556.9" r="3.4" fill="#2c2c2c" stroke="#000" stroke-width="1.2"/>
<circle cx="555.2" cy="589.7" r="3.4" fill="#2c2c2c" stroke="#000" stroke-width="1.2"/>
<circle cx="602" cy="537.3" r="3.6" fill="#333" stroke="#1c2a44" stroke-width="1.2"/>
<path d="M566,553 Q556,566 556,580 Q557,595 566,600" fill="none" stroke="#1a1a1a" stroke-width="2.2" />
<path d="M565.7,556 Q572,547 581.5,544.4 Q594,543 604.6,547.6 Q612,553 613.5,564.4 Q614.5,572 611.9,580 Q607,592 600.4,598 Q592,605 583.6,604.8 Q570,603 563.6,595.9 Q558,588 559.4,577 Q559.5,564 565.7,556 Z" fill="url(#gNut)" stroke="#0a0a0a" stroke-width="1.1" />
<path d="M595.1,548.6 Q580,557 577.8,569.6 Q573.5,585 574.1,602.2" fill="none" stroke="#111" stroke-width="0.9" />
<ellipse cx="598.5" cy="581.5" rx="13" ry="16" transform="rotate(22 598.5 581.5)" fill="#1a1a1a"/>
<ellipse cx="598.4" cy="581.8" rx="10.3" ry="13.3" transform="rotate(22 598.4 581.8)" fill="url(#gHole)" stroke="#444" stroke-width="0.6"/>
<ellipse cx="599.5" cy="582.5" rx="8" ry="11" transform="rotate(22 599.5 582.5)" fill="none" stroke="#555" stroke-width="0.5"/>
<polygon points="571,557.5 576,555 586.5,562 581.5,565" fill="#d0d0d0" stroke="#0a0a0a" stroke-width="0.7" stroke-linejoin="round" />
<line x1="579.5" y1="557.3" x2="575.5" y2="562" stroke="#333" stroke-width="0.6" />
<polygon points="562.5,583.5 567,581.5 576,588 571.5,591.5" fill="#8e8e8e" stroke="#0a0a0a" stroke-width="0.7" stroke-linejoin="round" />
<line x1="565" y1="586" x2="573" y2="590" stroke="#e0e0e0" stroke-width="1.0" />
<polygon points="602,550 606,551.5 605,555 601,553.5" fill="#888" stroke="#0a0a0a" stroke-width="0.5" stroke-linejoin="round" />
<text x="154.20" y="53.70" font-size="11.59" fill="#222" font-family='"Liberation Sans", sans-serif' textLength="15.61" lengthAdjust="spacingAndGlyphs" transform="rotate(-90 154.20 53.70)">130</text>
<text x="226.00" y="53.70" font-size="12.32" fill="#222" font-family='"Liberation Sans", sans-serif' textLength="15.61" lengthAdjust="spacingAndGlyphs" transform="rotate(-90 226.00 53.70)">100</text>
<text x="420.90" y="53.45" font-size="12.46" fill="#222" font-family='"Liberation Sans", sans-serif' textLength="9.61" lengthAdjust="spacingAndGlyphs" transform="rotate(-90 420.90 53.45)">18</text>
<text x="463.85" y="53.31" font-size="12.68" fill="#222" font-family='"Liberation Sans", sans-serif' textLength="4.98" lengthAdjust="spacingAndGlyphs" transform="rotate(-90 463.85 53.31)">0</text>
<text x="211.25" y="90.80" font-size="12.54" fill="#222" font-family='"Liberation Sans", sans-serif' textLength="21.30" lengthAdjust="spacingAndGlyphs" xml:space="preserve">Ø50</text>
<text x="211.26" y="111.75" font-size="12.10" fill="#222" font-family='"Liberation Sans", sans-serif' textLength="20.79" lengthAdjust="spacingAndGlyphs" xml:space="preserve">Ø32</text>
<text x="212.25" y="497.50" font-size="12.61" fill="#222" font-family='"Liberation Sans", sans-serif' textLength="21.11" lengthAdjust="spacingAndGlyphs" xml:space="preserve">Ø32</text>
<text x="211.04" y="526.00" font-size="12.46" fill="#222" font-family='"Liberation Sans", sans-serif' textLength="21.62" lengthAdjust="spacingAndGlyphs" xml:space="preserve">Ø50</text>
<text x="52.24" y="135.70" font-size="12.46" fill="#222" font-family='"Liberation Sans", sans-serif' textLength="53.07" lengthAdjust="spacingAndGlyphs" xml:space="preserve">max.  65,75</text>
<text x="55.09" y="151.50" font-size="12.46" fill="#222" font-family='"Liberation Sans", sans-serif' textLength="50.24" lengthAdjust="spacingAndGlyphs" xml:space="preserve">min.  62,25</text>
<text x="79.38" y="227.70" font-size="12.61" fill="#222" font-family='"Liberation Sans", sans-serif' textLength="26.06" lengthAdjust="spacingAndGlyphs" xml:space="preserve">32,75</text>
<text x="78.31" y="246.20" font-size="12.46" fill="#222" font-family='"Liberation Sans", sans-serif' textLength="27.15" lengthAdjust="spacingAndGlyphs" xml:space="preserve">24,75</text>
<text x="100.12" y="305.80" font-size="12.46" fill="#222" font-family='"Liberation Sans", sans-serif' textLength="5.27" lengthAdjust="spacingAndGlyphs" xml:space="preserve">0</text>
<text x="78.31" y="364.30" font-size="12.46" fill="#222" font-family='"Liberation Sans", sans-serif' textLength="27.15" lengthAdjust="spacingAndGlyphs" xml:space="preserve">24,75</text>
<text x="79.38" y="383.50" font-size="12.46" fill="#222" font-family='"Liberation Sans", sans-serif' textLength="26.06" lengthAdjust="spacingAndGlyphs" xml:space="preserve">32,75</text>
<text x="55.09" y="459.50" font-size="12.46" fill="#222" font-family='"Liberation Sans", sans-serif' textLength="50.24" lengthAdjust="spacingAndGlyphs" xml:space="preserve">min.  62,25</text>
<text x="52.24" y="475.40" font-size="12.46" fill="#222" font-family='"Liberation Sans", sans-serif' textLength="53.07" lengthAdjust="spacingAndGlyphs" xml:space="preserve">max.  65,75</text>
<text x="671.58" y="223.00" font-size="12.46" fill="#222" font-family='"Liberation Sans", sans-serif' textLength="11.61" lengthAdjust="spacingAndGlyphs" xml:space="preserve">35</text>
<text x="671.60" y="305.80" font-size="12.46" fill="#222" font-family='"Liberation Sans", sans-serif' textLength="5.62" lengthAdjust="spacingAndGlyphs" xml:space="preserve">0</text>
<text x="671.57" y="389.40" font-size="12.46" fill="#222" font-family='"Liberation Sans", sans-serif' textLength="11.88" lengthAdjust="spacingAndGlyphs" xml:space="preserve">35</text>
<text x="618.90" y="312.23" font-size="12.32" fill="#222" font-family='"Liberation Sans", sans-serif' textLength="20.52" lengthAdjust="spacingAndGlyphs" transform="rotate(-90 618.90 312.23)">Ø30</text>
<text x="747.60" y="86.53" font-size="13.04" fill="#222" font-family='"Liberation Sans", sans-serif' textLength="12.10" lengthAdjust="spacingAndGlyphs" transform="rotate(-90 747.60 86.53)">35</text>
<text x="830.70" y="85.84" font-size="12.61" fill="#222" font-family='"Liberation Sans", sans-serif' textLength="4.68" lengthAdjust="spacingAndGlyphs" transform="rotate(-90 830.70 85.84)">0</text>
<text x="914.00" y="85.90" font-size="12.75" fill="#222" font-family='"Liberation Sans", sans-serif' textLength="11.12" lengthAdjust="spacingAndGlyphs" transform="rotate(-90 914.00 85.90)">35</text>
<text x="33.53" y="561.70" font-size="11.30" fill="#222" font-family='"Liberation Sans", sans-serif' textLength="58.55" lengthAdjust="spacingAndGlyphs" xml:space="preserve">Spannzange</text>
<line x1="98.4" y1="561.7" x2="102.8" y2="553.9" stroke="#222" stroke-width="1.25" />
<text x="109.18" y="561.70" font-size="11.30" fill="#222" font-family='"Liberation Sans", sans-serif' textLength="28.25" lengthAdjust="spacingAndGlyphs" xml:space="preserve" font-style="italic">collet</text>
<text x="152.53" y="561.70" font-size="11.30" fill="#222" font-family='"Liberation Sans", sans-serif' textLength="24.22" lengthAdjust="spacingAndGlyphs" xml:space="preserve">ER32</text>
<text x="191.93" y="561.70" font-size="11.30" fill="#222" font-family='"Liberation Sans", sans-serif' textLength="40.30" lengthAdjust="spacingAndGlyphs" xml:space="preserve">DIN6499</text>
<text x="33.52" y="576.60" font-size="11.30" fill="#222" font-family='"Liberation Sans", sans-serif' textLength="65.99" lengthAdjust="spacingAndGlyphs" xml:space="preserve">Spannbereich</text>
<line x1="105" y1="576.6" x2="109.8" y2="568.8" stroke="#222" stroke-width="1.25" />
<text x="115.60" y="576.60" font-size="11.30" fill="#222" font-family='"Liberation Sans", sans-serif' textLength="77.32" lengthAdjust="spacingAndGlyphs" xml:space="preserve" font-style="italic">clamping range</text>
<text x="192.3" y="576.6" font-size="11" text-anchor="start" fill="#111" font-family='"Liberation Sans", sans-serif'>:</text>
<text x="200.26" y="576.60" font-size="11.30" fill="#222" font-family='"Liberation Sans", sans-serif' textLength="13.63" lengthAdjust="spacingAndGlyphs" xml:space="preserve">2,0</text>
<line x1="220.3" y1="573.3000000000001" x2="225.4" y2="573.3000000000001" stroke="#222" stroke-width="1.25" />
<text x="230.99" y="576.60" font-size="11.30" fill="#222" font-family='"Liberation Sans", sans-serif' textLength="19.67" lengthAdjust="spacingAndGlyphs" xml:space="preserve">20,0</text>
<text x="33.48" y="606.90" font-size="11.16" fill="#222" font-family='"Liberation Sans", sans-serif' textLength="91.03" lengthAdjust="spacingAndGlyphs" xml:space="preserve">Gewindebohrzange</text>
<line x1="131.2" y1="606.9" x2="135.8" y2="599.2" stroke="#222" stroke-width="1.25" />
<text x="141.85" y="606.90" font-size="11.16" fill="#222" font-family='"Liberation Sans", sans-serif' textLength="71.76" lengthAdjust="spacingAndGlyphs" xml:space="preserve" font-style="italic">tapping collet</text>
<text x="33.09" y="621.50" font-size="11.16" fill="#222" font-family='"Liberation Sans", sans-serif' textLength="40.51" lengthAdjust="spacingAndGlyphs" xml:space="preserve">ET-1-32</text>
<text x="83.19" y="621.50" font-size="11.16" fill="#222" font-family='"Liberation Sans", sans-serif' textLength="36.94" lengthAdjust="spacingAndGlyphs" xml:space="preserve">M5-M12</text>
<text x="813.29" y="586.15" font-size="11.09" fill="#000" font-family='"Liberation Sans", sans-serif' textLength="39.30" lengthAdjust="spacingAndGlyphs" xml:space="preserve">Copyright</text>
<text x="855.27" y="586.15" font-size="11.09" fill="#000" font-family='"Liberation Sans", sans-serif' textLength="25.87" lengthAdjust="spacingAndGlyphs" xml:space="preserve" font-style="italic" font-weight="bold">EWS</text>
<text x="883.03" y="586.15" font-size="11.09" fill="#000" font-family='"Liberation Sans", sans-serif' textLength="85.76" lengthAdjust="spacingAndGlyphs" xml:space="preserve" font-style="italic">Tool Technologies</text>
<text x="813.72" y="594.80" font-size="6.67" fill="#222" font-family='"Liberation Sans", sans-serif' textLength="152.62" lengthAdjust="spacingAndGlyphs" xml:space="preserve">Weitergabe und Vervielfaeltigung dieser Unterlage,</text>
<text x="813.72" y="601.90" font-size="6.67" fill="#222" font-family='"Liberation Sans", sans-serif' textLength="132.53" lengthAdjust="spacingAndGlyphs" xml:space="preserve">Verwertung und Mitteilung ihres Inhalts nicht</text>
<text x="813.48" y="609.20" font-size="6.67" fill="#222" font-family='"Liberation Sans", sans-serif' textLength="151.04" lengthAdjust="spacingAndGlyphs" xml:space="preserve">gestattet, soweit nicht ausdruecklich zugestanden.</text>
<text x="813.55" y="617.00" font-size="6.67" fill="#222" font-family='"Liberation Sans", sans-serif' textLength="153.77" lengthAdjust="spacingAndGlyphs" xml:space="preserve">Zuwiderhandlungen verpflichten zu Schadenersatz.</text>
<text x="27.6" y="633.2" font-size="5" text-anchor="start" fill="#333" font-family='"Liberation Sans", sans-serif' textLength="40.8" lengthAdjust="spacingAndGlyphs">Bemerkung - <tspan font-style="italic">Note</tspan></text>
<text x="194.4" y="633.2" font-size="5" text-anchor="start" fill="#333" font-family='"Liberation Sans", sans-serif' textLength="77" lengthAdjust="spacingAndGlyphs">Technische Daten - <tspan font-style="italic">technical data</tspan></text>
<text x="373" y="633.4" font-size="5" text-anchor="start" fill="#333" font-family='"Liberation Sans", sans-serif' textLength="40" lengthAdjust="spacingAndGlyphs">Benennung - <tspan font-style="italic">Title</tspan></text>
<text x="658" y="661.75" font-size="5" text-anchor="start" fill="#333" font-family='"Liberation Sans", sans-serif' textLength="15" lengthAdjust="spacingAndGlyphs">Nr. - <tspan font-style="italic">No.</tspan></text>
<text x="874" y="661.5" font-size="5" text-anchor="start" fill="#333" font-family='"Liberation Sans", sans-serif' textLength="8" lengthAdjust="spacingAndGlyphs">MNR:</text>
<text x="198.53" y="643.30" font-size="8.70" fill="#222" font-family='"Liberation Sans", sans-serif' textLength="24.43" lengthAdjust="spacingAndGlyphs" xml:space="preserve" font-style="italic">Weight</text>
<text x="276.64" y="643.30" font-size="8.70" fill="#222" font-family='"Liberation Sans", sans-serif' textLength="4.21" lengthAdjust="spacingAndGlyphs" xml:space="preserve">=</text>
<text x="287.79" y="643.30" font-size="8.70" fill="#222" font-family='"Liberation Sans", sans-serif' textLength="36.30" lengthAdjust="spacingAndGlyphs" xml:space="preserve">4.875 [kg]</text>
<text x="376.38" y="652.60" font-size="16.81" fill="#222" font-family='"Liberation Sans", sans-serif' textLength="146.25" lengthAdjust="spacingAndGlyphs" xml:space="preserve">Spannzangenaufnahme</text>
<text x="376.14" y="678.00" font-size="17.39" fill="#222" font-family='"Liberation Sans", sans-serif' textLength="132.98" lengthAdjust="spacingAndGlyphs" xml:space="preserve" font-style="italic">Collet chuck holder</text>
<g stroke="#000" stroke-width="0.7">
<text x="657.20" y="644.80" font-size="18.99" fill="#000" font-family='"Liberation Sans", sans-serif' textLength="45.05" lengthAdjust="spacingAndGlyphs" xml:space="preserve" font-style="italic" font-weight="bold">EWS</text>
</g>
<text x="657.24" y="650.60" font-size="6.67" fill="#000" font-family='"Liberation Sans", sans-serif' textLength="44.94" lengthAdjust="spacingAndGlyphs" xml:space="preserve" font-style="italic" font-weight="bold">Tool Technologies</text>
<text x="707" y="634.7" font-size="4.4" text-anchor="start" fill="#444" font-family='"Liberation Sans", sans-serif' textLength="52.8" lengthAdjust="spacingAndGlyphs"><tspan font-weight="bold">EWS</tspan> Weigele GmbH &amp; Co. KG</text>
<text x="707" y="639.8000000000001" font-size="4.4" text-anchor="start" fill="#444" font-family='"Liberation Sans", sans-serif' textLength="28" lengthAdjust="spacingAndGlyphs">Maybachstr. 1</text>
<text x="707" y="644.9000000000001" font-size="4.4" text-anchor="start" fill="#444" font-family='"Liberation Sans", sans-serif' textLength="33" lengthAdjust="spacingAndGlyphs">D-73066 Uhingen</text>
<text x="707" y="650.0" font-size="4.4" text-anchor="start" fill="#444" font-family='"Liberation Sans", sans-serif' textLength="30" lengthAdjust="spacingAndGlyphs">www.ews-tools.de</text>
<text x="765.89" y="633.90" font-size="5.94" fill="#333" font-family='"Liberation Sans", sans-serif' textLength="98.44" lengthAdjust="spacingAndGlyphs" xml:space="preserve">Technische  Aenderungen  vorbehalten!</text>
<text x="765.82" y="641.30" font-size="5.94" fill="#333" font-family='"Liberation Sans", sans-serif' textLength="97.26" lengthAdjust="spacingAndGlyphs" xml:space="preserve" font-style="italic">Subject  to  technical  modifications!</text>
<text x="765.54" y="653.30" font-size="6.81" fill="#333" font-family='"Liberation Sans", sans-serif' textLength="52.57" lengthAdjust="spacingAndGlyphs" xml:space="preserve">IDENT:   DEWS061335</text>
<text x="873.50" y="653.30" font-size="6.81" fill="#333" font-family='"Liberation Sans", sans-serif' textLength="24.88" lengthAdjust="spacingAndGlyphs" xml:space="preserve">REV:   -/I</text>
<text x="662.05" y="678.00" font-size="13.62" fill="#222" font-family='"Liberation Sans", sans-serif' textLength="111.21" lengthAdjust="spacingAndGlyphs" xml:space="preserve">31.3032DTNX65X100</text>
<text x="873.49" y="678.00" font-size="13.19" fill="#222" font-family='"Liberation Sans", sans-serif' textLength="39.37" lengthAdjust="spacingAndGlyphs" xml:space="preserve">S02091</text>
<polygon points="876,632 892,629 892,643 876,640" fill="none" stroke="#222" stroke-width="0.9" stroke-linejoin="round" />
<line x1="874" y1="636" x2="894" y2="636" stroke="#666" stroke-width="0.6" stroke-dasharray="3,1.5"/>
<circle cx="904.3" cy="635.8" r="6.8" fill="none" stroke="#222" stroke-width="0.9"/>
<circle cx="904.3" cy="635.8" r="3.7" fill="none" stroke="#222" stroke-width="0.9"/>
<line x1="904.3" y1="627.8" x2="904.3" y2="643.8" stroke="#666" stroke-width="0.5" />
<line x1="896.3" y1="635.8" x2="912.3" y2="635.8" stroke="#666" stroke-width="0.5" />
<path d="M924.7,651.9 A10.25,10.25 0 0 1 945.2,651.9 L945.2,661.3 A10.25,10.25 0 0 1 924.7,661.3 Z" fill="none" stroke="#000" stroke-width="3.3" />
<line x1="937.2" y1="663.6" x2="944.6" y2="671.4" stroke="#000" stroke-width="3.3" stroke-linecap="round"/>
<path d="M951.6,672 L951.6,641.7 L959.6,641.7 A8,8 0 0 1 959.6,657.7 L951.6,657.7 M960.6,657.7 L968.3,671.6" fill="none" stroke="#000" stroke-width="3.3" stroke-linecap="round" stroke-linejoin="round"/>
</svg>
</body></html>
